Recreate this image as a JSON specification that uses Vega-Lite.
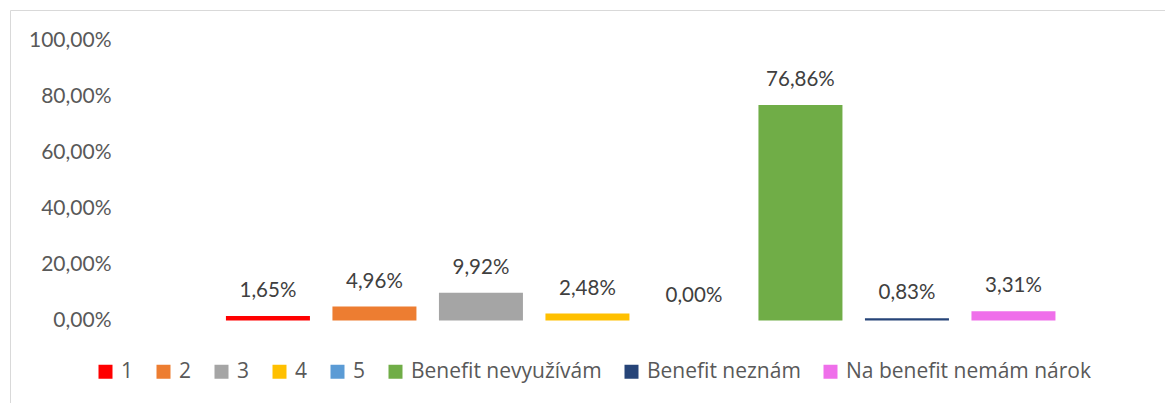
{
  "$schema": "https://vega.github.io/schema/vega-lite/v6.json",
  "width": 1155,
  "height": 393,
  "autosize": {"type": "none"},
  "padding": {"left": 10, "top": 10, "right": 0, "bottom": 0},
  "background": "white",
  "data": {
    "values": [
      {"kategorie": "1", "podil": 0.0165},
      {"kategorie": "2", "podil": 0.0496},
      {"kategorie": "3", "podil": 0.0992},
      {"kategorie": "4", "podil": 0.0248},
      {"kategorie": "5", "podil": 0.0},
      {"kategorie": "Benefit nevyužívám", "podil": 0.7686},
      {"kategorie": "Benefit neznám", "podil": 0.0083},
      {"kategorie": "Na benefit nemám nárok", "podil": 0.0331}
    ]
  },
  "encoding": {
    "x": {
      "field": "kategorie",
      "type": "nominal",
      "sort": null,
      "scale": {
        "domain": [" ", "1", "2", "3", "4", "5", "Benefit nevyužívám", "Benefit neznám", "Na benefit nemám nárok", "  "],
        "paddingInner": 0.2113,
        "paddingOuter": 0.528,
        "align": 0.973,
        "round": false
      },
      "axis": {
        "orient": "top",
        "labels": false,
        "ticks": false,
        "title": null,
        "domain": true,
        "domainColor": "#D9D9D9",
        "domainWidth": 1,
        "grid": false
      }
    },
    "y": {
      "field": "podil",
      "type": "quantitative",
      "scale": {"domain": [-0.2942, 1.1073], "nice": false},
      "axis": {
        "values": [0, 0.2, 0.4, 0.6, 0.8, 1],
        "format": ".2%",
        "labelFont": "Lato",
        "labelFontSize": 21,
        "labelColor": "#595959",
        "ticks": false,
        "tickSize": 0,
        "labelPadding": -101,
        "domain": true,
        "domainColor": "#D9D9D9",
        "domainWidth": 1,
        "grid": false,
        "title": null,
        "labelFlush": false,
        "labelOverlap": false
      }
    }
  },
  "layer": [
    {
      "mark": {"type": "bar"},
      "encoding": {
        "color": {
          "field": "kategorie",
          "type": "nominal",
          "sort": null,
          "scale": {
            "domain": ["1", "2", "3", "4", "5", "Benefit nevyužívám", "Benefit neznám", "Na benefit nemám nárok"],
            "range": ["#FF0000", "#ED7D31", "#A5A5A5", "#FFC000", "#5B9BD5", "#70AD47", "#264478", "#EF6FEA"]
          },
          "legend": {
            "orient": "none",
            "legendX": 85,
            "legendY": 351,
            "direction": "horizontal",
            "columns": 8,
            "title": null,
            "symbolType": "square",
            "symbolSize": 196,
            "symbolStrokeWidth": 0,
            "labelFont": "Open Sans",
            "labelFontSize": 21,
            "labelColor": "#595959",
            "labelOffset": 5,
            "columnPadding": 19,
            "padding": 0,
            "labelLimit": 0
          }
        }
      }
    },
    {
      "mark": {
        "type": "text",
        "dy": -19,
        "baseline": "alphabetic",
        "font": "Lato",
        "fontSize": 20.5,
        "color": "#404040"
      },
      "encoding": {
        "text": {"field": "podil", "type": "quantitative", "format": ".2%"}
      }
    }
  ],
  "config": {
    "view": {"stroke": null},
    "locale": {
      "number": {
        "decimal": ",",
        "thousands": " ",
        "grouping": [3],
        "currency": ["", " Kč"]
      }
    }
  }
}
